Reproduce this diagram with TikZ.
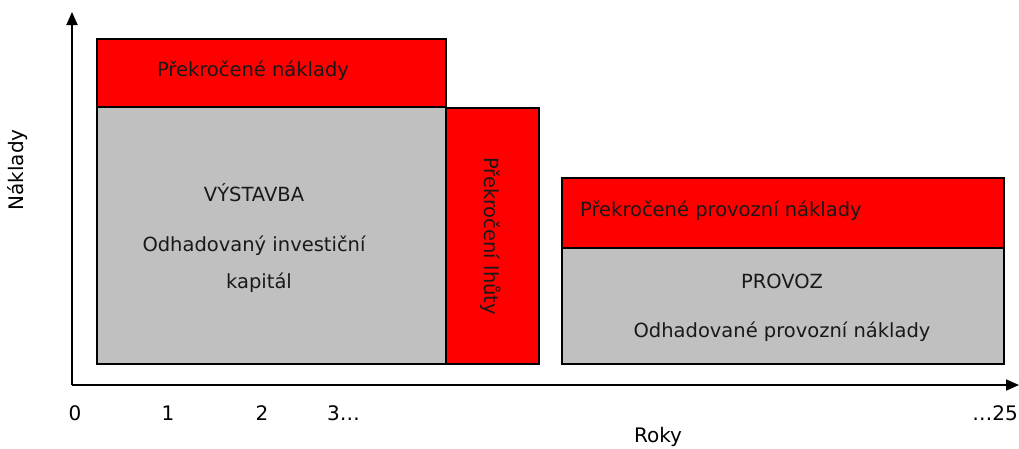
\documentclass[tikz,border=0pt]{standalone}
\usepackage{fontspec}
\setmainfont{DejaVu Sans}
\usetikzlibrary{arrows.meta}
\definecolor{costred}{RGB}{255,0,0}
\definecolor{basegray}{RGB}{192,192,192}
\tikzset{
  block/.style={draw=black, line width=1.8pt, inner sep=0pt, anchor=north west},
  redblock/.style={block, fill=costred},
  grayblock/.style={block, fill=basegray},
  lbl/.style={font=\fontsize{19.5}{23}\selectfont, inner sep=0pt, text=black!90},
  tick/.style={font=\fontsize{20}{24}\selectfont, inner sep=0pt},
  axis/.style={line width=1.8pt, -{Triangle[length=13pt,width=11pt]}}
}
\begin{document}
\begin{tikzpicture}[x=1pt,y=-1pt]
\useasboundingbox (0,0) rectangle (1019,448);

% axes
\coordinate (o) at (72,385);
\coordinate (ytop) at (72,12);
\coordinate (xend) at (1019,385);
\draw[axis] (o) -- (ytop);
\draw[axis] (o) -- (xend);

% construction phase
\node[grayblock, minimum width=349pt, minimum height=257pt] (build) at (96,106) {};
\node[redblock, minimum width=349pt, minimum height=68pt] (buildover) at (96,38) {};
\node[redblock, minimum width=93pt, minimum height=256pt] (delay) at (445,107) {};

% operation phase
\node[grayblock, minimum width=442pt, minimum height=116pt] (oper) at (561,247) {};
\node[redblock, minimum width=442pt, minimum height=70pt] (operover) at (561,177) {};

% labels
\node[lbl] (t1) at (253,71) {Překročené náklady};
\node[lbl] (t2) at (254,193) {VÝSTAVBA};
\node[lbl] (t3) at (254,246) {Odhadovaný investiční};
\node[lbl] (t4) at (259,283) {kapitál};
\node[lbl, rotate=-90] (t5) at (491,236) {Překročení lhůty};
\node[lbl, anchor=west] (t6) at (580,211) {Překročené provozní náklady};
\node[lbl] (t7) at (782,281) {PROVOZ};
\node[lbl] (t8) at (782,332) {Odhadované provozní náklady};

% axis annotations
\node[tick] (n0) at (75,413) {0};
\node[tick] (n1) at (168,413) {1};
\node[tick] (n2) at (262,413) {2};
\node[tick, anchor=west] (n3) at (327,413) {3…};
\node[tick, anchor=east] (n25) at (1018,413) {…25};
\node[tick] (xl) at (658,437) {Roky};
\node[tick, rotate=90] (yl) at (18,170) {Náklady};
\end{tikzpicture}
\end{document}
